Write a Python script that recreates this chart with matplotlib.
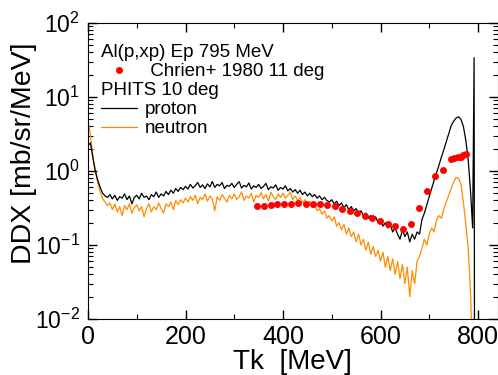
import numpy as np
import matplotlib
matplotlib.use("Agg")
import matplotlib.pyplot as plt
from matplotlib.lines import Line2D
from matplotlib.ticker import MultipleLocator, LogLocator

plt.rcParams['font.family'] = ['Liberation Sans', 'DejaVu Sans']
plt.rcParams['mathtext.fontset'] = 'custom'
plt.rcParams['mathtext.rm'] = 'Liberation Sans'

# PHITS spectra, 5 MeV bins starting at 0 MeV
bin_width = 5
proton = [
    2.2, 2.4, 1.5, 1.0, 0.75, 0.6, 0.5, 0.46, 0.44, 0.48,
    0.42, 0.47, 0.40, 0.45, 0.43, 0.49, 0.41, 0.46, 0.36, 0.44,
    0.47, 0.42, 0.50, 0.44, 0.46, 0.41, 0.48, 0.45, 0.52, 0.44,
    0.49, 0.46, 0.53, 0.48, 0.55, 0.50, 0.58, 0.53, 0.60, 0.56,
    0.62, 0.57, 0.66, 0.59, 0.63, 0.70, 0.60, 0.65, 0.58, 0.67,
    0.61, 0.72, 0.60, 0.66, 0.63, 0.70, 0.58, 0.64, 0.62, 0.68,
    0.60, 0.66, 0.72, 0.59, 0.64, 0.61, 0.69, 0.57, 0.63, 0.60,
    0.66, 0.58, 0.62, 0.68, 0.56, 0.61, 0.59, 0.65, 0.55, 0.60,
    0.57, 0.63, 0.54, 0.58, 0.52, 0.56, 0.50, 0.55, 0.48, 0.52,
    0.46, 0.50, 0.45, 0.48, 0.43, 0.46, 0.41, 0.44, 0.40, 0.38,
    0.41, 0.36, 0.39, 0.34, 0.37, 0.32, 0.35, 0.30, 0.33, 0.29,
    0.31, 0.27, 0.29, 0.25, 0.27, 0.23, 0.25, 0.21, 0.24, 0.20,
    0.22, 0.18, 0.20, 0.17, 0.19, 0.15, 0.17, 0.14, 0.12, 0.16,
    0.13, 0.15, 0.11, 0.14, 0.12, 0.15, 0.14, 0.22, 0.27, 0.35,
    0.45, 0.58, 0.75, 0.95, 1.2, 1.55, 1.95, 2.5, 3.2, 4.1,
    4.7, 5.2, 5.4, 5.0, 4.0, 2.6, 1.4, 0.5,
]
# elastic region of the proton spectrum
proton_tail_e = [789, 792, 793]
proton_tail = [0.17, 34.0, 0.0005]

neutron = [
    5.0, 3.0, 1.6, 1.0, 0.7, 0.52, 0.42, 0.38, 0.34, 0.37,
    0.30, 0.36, 0.28, 0.33, 0.25, 0.34, 0.30, 0.36, 0.27, 0.32,
    0.35, 0.29, 0.33, 0.24, 0.31, 0.36, 0.28, 0.33, 0.30, 0.37,
    0.31, 0.27, 0.36, 0.33, 0.38, 0.30, 0.40, 0.35, 0.41, 0.37,
    0.43, 0.38, 0.45, 0.40, 0.47, 0.36, 0.44, 0.41, 0.49, 0.39,
    0.46, 0.42, 0.29, 0.45, 0.40, 0.48, 0.43, 0.38, 0.47, 0.42,
    0.49, 0.41, 0.45, 0.52, 0.40, 0.46, 0.43, 0.50, 0.38, 0.47,
    0.44, 0.51, 0.42, 0.48, 0.39, 0.52, 0.45, 0.41, 0.49, 0.44,
    0.50, 0.43, 0.47, 0.52, 0.41, 0.46, 0.40, 0.44, 0.37, 0.41,
    0.36, 0.39, 0.32, 0.35, 0.29, 0.31, 0.26, 0.29, 0.23, 0.25,
    0.21, 0.24, 0.18, 0.20, 0.16, 0.19, 0.14, 0.17, 0.13, 0.15,
    0.11, 0.14, 0.10, 0.12, 0.085, 0.11, 0.075, 0.095, 0.07, 0.085,
    0.06, 0.08, 0.05, 0.07, 0.045, 0.065, 0.04, 0.06, 0.035, 0.055,
    0.03, 0.05, 0.02, 0.045, 0.03, 0.06, 0.07, 0.09, 0.12, 0.10,
    0.14, 0.17, 0.15, 0.22, 0.25, 0.23, 0.31, 0.38, 0.47, 0.58,
    0.70, 0.82, 0.80, 0.66, 0.38, 0.19, 0.09, 0.02,
]
neutron_tail_e = [788]
neutron_tail = [0.005]

# Chrien+ 1980, 11 deg
exp_e = [346, 360, 375, 388, 403, 417, 431, 447, 461, 476, 491, 507,
         522, 537, 552, 568, 583, 599, 615, 630, 646, 663, 679, 695,
         712, 729, 745, 751, 758, 765, 769, 775]
exp_ddx = [0.336, 0.336, 0.347, 0.358, 0.358, 0.358, 0.364, 0.358, 0.358,
           0.355, 0.344, 0.336, 0.31, 0.288, 0.267, 0.249, 0.23, 0.21,
           0.193, 0.18, 0.167, 0.193, 0.314, 0.545, 0.85, 1.04, 1.45,
           1.52, 1.55, 1.56, 1.63, 1.71]

e_p = list(np.arange(len(proton)) * bin_width) + proton_tail_e
e_n = list(np.arange(len(neutron)) * bin_width) + neutron_tail_e

fig = plt.figure(figsize=(4.98, 3.75), dpi=100)
ax = fig.add_axes([88 / 498, 56 / 375, 409.5 / 498, 296 / 375])

ax.plot(e_n, neutron + neutron_tail, color='#ff8c00', lw=0.9)
ax.plot(e_p, proton + proton_tail, color='black', lw=0.9)
ax.plot(exp_e, exp_ddx, 'o', color='#ff0000', ms=5, mec='none')

ax.set_yscale('log')
ax.set_xlim(0, 840)
ax.set_ylim(1e-2, 1e2)
ax.xaxis.set_major_locator(MultipleLocator(200))
ax.xaxis.set_minor_locator(MultipleLocator(100))
ax.yaxis.set_minor_locator(LogLocator(base=10, subs=np.arange(2, 10)))
ax.tick_params(which='both', direction='in', top=True, right=True)
ax.tick_params(which='major', length=6.5, width=1.0)
ax.tick_params(which='minor', length=3.5, width=0.8)
ax.tick_params(axis='x', pad=4, labelsize=18)
ax.tick_params(axis='y', pad=6, labelsize=16.5)

ax.set_xlabel('Tk  [MeV]', fontsize=20, labelpad=0)
ax.set_ylabel('DDX [mb/sr/MeV]', fontsize=20.5)
ax.yaxis.set_label_coords(-0.125, 0.56)

handles = [Line2D([], [], ls='none'),
           Line2D([], [], ls='none', marker='o', color='#ff0000', ms=5, mec='none'),
           Line2D([], [], ls='none'),
           Line2D([], [], color='black', lw=0.9),
           Line2D([], [], color='#ff8c00', lw=0.9)]
labels = [' ', ' Chrien+ 1980 11 deg', ' ', 'proton', 'neutron']
leg = ax.legend(handles, labels, loc='upper left',
                bbox_to_anchor=(13 / 409.5, (319 - 44) / 296),
                frameon=False, fontsize=13.5, handlelength=1.92,
                handletextpad=0.43, labelspacing=0.1,
                borderpad=0, borderaxespad=0)

# header rows of the legend: put them on the same pitch as the real rows
fig.canvas.draw()
inv = ax.transAxes.inverted()
texts = leg.get_texts()
bb1 = texts[1].get_window_extent()
bb3 = texts[3].get_window_extent()
y1 = (bb1.y0 + bb1.y1) / 2
y3 = (bb3.y0 + bb3.y1) / 2
pitch = (y1 - y3) / 2
x0 = 13 / 409.5
for yc, txt in [(y1 + pitch, 'Al(p,xp) Ep 795 MeV'), (y1 - pitch, 'PHITS 10 deg')]:
    ya = inv.transform((0, yc))[1]
    ax.text(x0, ya, txt, transform=ax.transAxes, fontsize=13.5,
            ha='left', va='center')

fig.savefig('out.png', dpi=100)
